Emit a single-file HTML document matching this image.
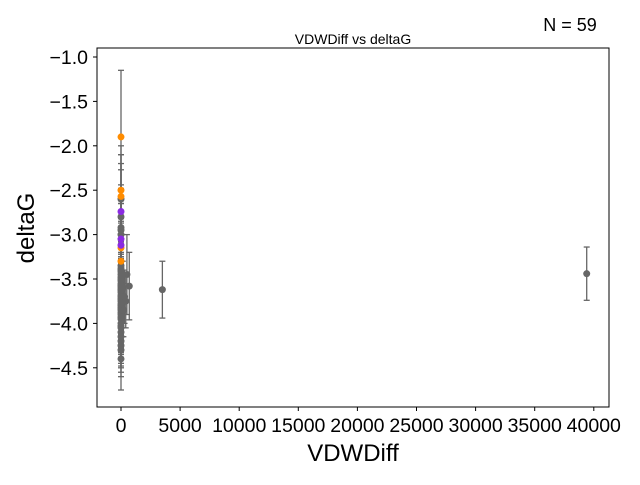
<!DOCTYPE html>
<html><head><meta charset="utf-8"><style>
body{margin:0;background:#fff;}
svg text{font-family:"Liberation Sans",Arial,sans-serif;}
</style></head><body>
<svg id="c" width="640" height="480" xmlns="http://www.w3.org/2000/svg"></svg>
<script>
const xVals=[0,0,0,0,0,0,0,0,0,0,0,0,0,0,0,0,0,0,0,0,0,0,0,0,0,0,0,0,0,0,0,0,0,0,0,0,0,0,0,0,0,0,0,0,0,0,0,0,0,0,0,500,700,150,300,400,3500,39400,200];
const yVals=[-1.9,-2.5,-2.57,-3.3,-3.15,-2.74,-3.05,-3.12,-2.92,-2.95,-3.4,-3.45,-3.5,-3.55,-3.6,-3.62,-3.65,-3.7,-3.72,-3.75,-3.8,-3.82,-3.85,-3.88,-3.9,-3.95,-4.0,-4.05,-4.1,-4.2,-4.3,-4.4,-3.48,-3.58,-3.68,-3.78,-2.6,-2.8,-3.0,-3.35,-3.42,-3.52,-3.63,-3.73,-3.83,-3.93,-4.03,-4.15,-4.25,-3.38,-3.57,-3.45,-3.58,-3.6,-3.7,-3.75,-3.62,-3.44,-3.85];
const yErr=[0.75,0.3,0.3,0.35,0.3,0.3,0.3,0.3,0.3,0.3,0.3,0.3,0.3,0.3,0.3,0.3,0.3,0.3,0.3,0.3,0.3,0.3,0.3,0.3,0.3,0.3,0.3,0.3,0.3,0.3,0.3,0.35,1.0,0.8,0.6,0.5,0.5,0.7,1.0,0.4,0.3,0.3,0.3,0.3,0.3,0.3,0.3,0.3,0.3,0.3,0.3,0.45,0.38,0.3,0.3,0.3,0.32,0.3,0.3];
const groups=["o","o","o","o","o","p","p","p"];
const xTicks=[0,5000,10000,15000,20000,25000,30000,35000,40000];
const yTicks=[-1.0,-1.5,-2.0,-2.5,-3.0,-3.5,-4.0,-4.5];
const L=97,R=609,T=48,B=407;
const sx=v=>121+(v/5000)*59.1;
const sy=v=>57+((-1.0-v)/0.5)*44.4;
const svg=document.getElementById('c');
const NS='http://www.w3.org/2000/svg';
function mk(t,a,p){const e=document.createElementNS(NS,t);for(const k in a)e.setAttribute(k,a[k]);(p||svg).appendChild(e);return e;}
const col=i=>groups[i]==="o"?"#ff8c00":groups[i]==="p"?"#8a2be2":"#666666";
for(let i=0;i<xVals.length;i++){
 const x=sx(xVals[i]),y1=sy(yVals[i]+yErr[i]),y2=sy(yVals[i]-yErr[i]);
 const g=mk('g',{});
 
 
 mk('line',{x1:x,x2:x,y1:y1,y2:y2,stroke:'#666',"stroke-width":1.3},g);
 mk('line',{x1:x-3,x2:x+3,y1:y1,y2:y1,stroke:'#666',"stroke-width":1.3},g);
 mk('line',{x1:x-3,x2:x+3,y1:y2,y2:y2,stroke:'#666',"stroke-width":1.3},g);
}
const order=[...xVals.keys()].sort((a,b)=>(groups[a]?1:0)-(groups[b]?1:0));
for(const i of order){
 const c=mk('circle',{cx:sx(xVals[i]),cy:sy(yVals[i]),r:3.5,fill:col(i)});
 
 
}
const fr=mk('rect',{x:L,y:T,width:R-L,height:B-T,fill:'none',stroke:'#000',"stroke-width":1});


xTicks.forEach(v=>{const x=sx(v);mk('line',{x1:x,x2:x,y1:B,y2:B+4,stroke:'#000'});
 const t=mk('text',{x:x,y:B+25,"text-anchor":"middle","font-size":19.5});t.textContent=v;
 
 });
yTicks.forEach(v=>{const y=sy(v);mk('line',{x1:L-4,x2:L,y1:y,y2:y,stroke:'#000'});
 const t=mk('text',{x:L-9,y:y+7,"text-anchor":"end","font-size":19.5});t.textContent=v.toFixed(1).replace('-','−');
 
 });
let t=mk('text',{x:353,y:461,"text-anchor":"middle","font-size":24});t.textContent='VDWDiff';

t=mk('text',{x:34,y:228,"text-anchor":"middle","font-size":24,transform:'rotate(-90 34 228)'});t.textContent='deltaG';

t=mk('text',{x:353,y:44,"text-anchor":"middle","font-size":14});t.textContent='VDWDiff vs deltaG';

t=mk('text',{x:570,y:31,"text-anchor":"middle","font-size":18});t.textContent='N = 59';

</script>
</body></html>
